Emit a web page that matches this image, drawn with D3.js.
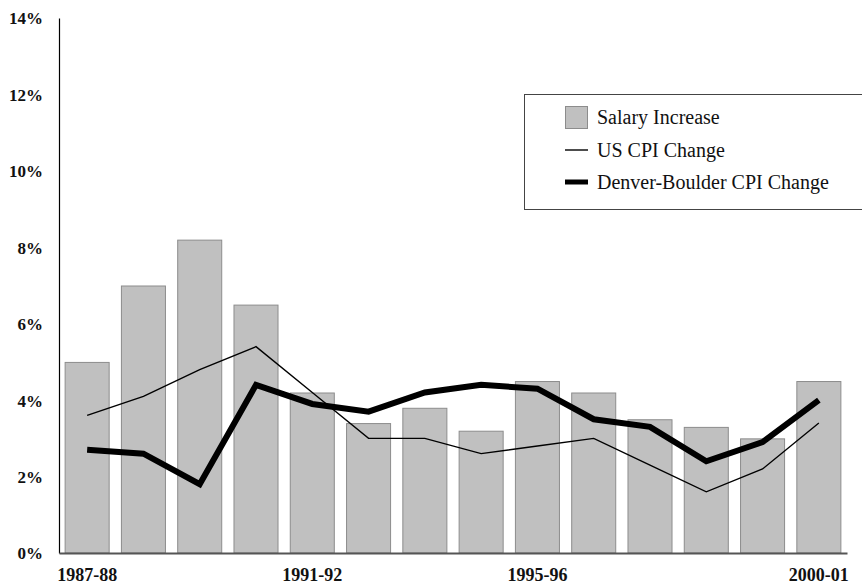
<!DOCTYPE html>
<html>
<head>
<meta charset="utf-8">
<script src="https://cdn.jsdelivr.net/npm/d3@7"></script>
<style>
  html, body { margin: 0; padding: 0; background: #fff; }
  svg { display: block; }
</style>
</head>
<body>
<svg id="chart" width="862" height="586"></svg>
<script>
// School years on the x axis
const years = ["1987-88", "1988-89", "1989-90", "1990-91", "1991-92", "1992-93", "1993-94",
               "1994-95", "1995-96", "1996-97", "1997-98", "1998-99", "1999-00", "2000-01"];
// Years that get a label under the axis
const labeledYears = ["1987-88", "1991-92", "1995-96", "2000-01"];
// Percent values per year
const salaryIncrease = [5.0, 7.0, 8.2, 6.5, 4.2, 3.4, 3.8, 3.2, 4.5, 4.2, 3.5, 3.3, 3.0, 4.5];
const usCpi          = [3.6, 4.1, 4.8, 5.4, 4.2, 3.0, 3.0, 2.6, 2.8, 3.0, 2.3, 1.6, 2.2, 3.4];
const denverCpi      = [2.7, 2.6, 1.8, 4.4, 3.9, 3.7, 4.2, 4.4, 4.3, 3.5, 3.3, 2.4, 2.9, 4.0];
// Y axis ticks (percent)
const yTicks = [0, 2, 4, 6, 8, 10, 12, 14];
const legendItems = ["Salary Increase", "US CPI Change", "Denver-Boulder CPI Change"];

const svg = d3.select("#chart");
const font = "'Liberation Serif', 'Times New Roman', serif";

const x = d3.scaleBand().domain(years).range([59, 847]).paddingInner(0.2).paddingOuter(0.1);
const y = d3.scaleLinear().domain([0, 14]).range([553, 18]);

// Bars
svg.append("g").selectAll("rect")
  .data(years.map((yr, i) => ({ yr, v: salaryIncrease[i] })))
  .join("rect")
  .attr("x", d => x(d.yr) + 0.5)
  .attr("y", d => y(d.v) + 0.5)
  .attr("width", x.bandwidth() - 1)
  .attr("height", d => y(0) - y(d.v) - 0.5)
  .attr("fill", "#c0c0c0")
  .attr("stroke", "#8c8c8c")
  .attr("stroke-width", 1);

// Y axis
const yAxis = d3.axisLeft(y).tickValues(yTicks).tickFormat(d => d + "%").tickSize(0).tickPadding(16);
const gy = svg.append("g").attr("transform", "translate(59,0)").call(yAxis);
gy.select(".domain").attr("stroke", "#000").attr("stroke-width", 1.2);
gy.selectAll("text")
  .attr("font-family", font).attr("font-size", 17).attr("font-weight", "bold")
  .attr("fill", "#111").attr("dy", "0.35em");

// X axis
const xAxis = d3.axisBottom(x).tickValues(labeledYears).tickSize(0).tickPadding(15);
const gx = svg.append("g").attr("transform", "translate(0,553)").call(xAxis);
gx.select(".domain").attr("stroke", "#555").attr("stroke-width", 2);
gx.selectAll("text")
  .attr("font-family", font).attr("font-size", 18).attr("font-weight", "bold")
  .attr("fill", "#111");

// Lines
const line = d3.line().x((d, i) => x(years[i]) + x.bandwidth() / 2).y(d => y(d));
svg.append("path").datum(usCpi).attr("d", line)
  .attr("fill", "none").attr("stroke", "#000").attr("stroke-width", 1.4);
svg.append("path").datum(denverCpi).attr("d", line)
  .attr("fill", "none").attr("stroke", "#000").attr("stroke-width", 6)
  .attr("stroke-linejoin", "miter");

// Legend
const lg = svg.append("g").attr("transform", "translate(524,94)");
lg.append("rect").attr("x", 0.5).attr("y", 0.5).attr("width", 345).attr("height", 115)
  .attr("fill", "#fff").attr("stroke", "#444").attr("stroke-width", 1);
const rowY = [23, 56, 88];
lg.append("rect").attr("x", 41.5).attr("y", rowY[0] - 10.5).attr("width", 22).attr("height", 22)
  .attr("fill", "#c0c0c0").attr("stroke", "#8c8c8c");
lg.append("line").attr("x1", 41).attr("x2", 64).attr("y1", rowY[1]).attr("y2", rowY[1])
  .attr("stroke", "#000").attr("stroke-width", 1.4);
lg.append("line").attr("x1", 41).attr("x2", 64).attr("y1", rowY[2]).attr("y2", rowY[2])
  .attr("stroke", "#000").attr("stroke-width", 5);
lg.selectAll("text.item").data(legendItems).join("text")
  .attr("class", "item")
  .attr("x", 73).attr("y", (d, i) => rowY[i])
  .attr("dy", "0.33em")
  .attr("font-family", font).attr("font-size", 20).attr("fill", "#111")
  .text(d => d);
</script>
</body>
</html>
